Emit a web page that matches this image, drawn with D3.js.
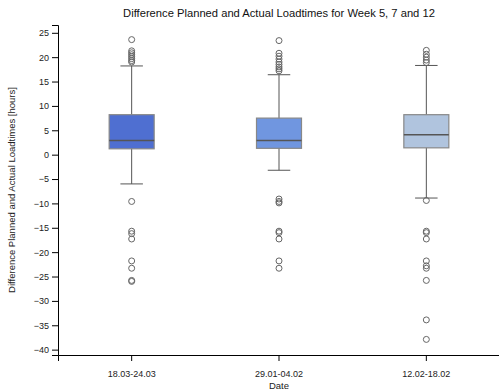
<!DOCTYPE html>
<html>
<head>
<meta charset="utf-8">
<script src="https://cdn.jsdelivr.net/npm/d3@7"></script>
<style>
  body { margin: 0; background: #fff; }
  text { font-family: "Liberation Sans", Arial, sans-serif; }
</style>
</head>
<body>
<svg id="chart" width="499" height="390"></svg>
<script>
const categories = ["18.03-24.03", "29.01-04.02", "12.02-18.02"];
const q1Values = [1.2, 1.3, 1.4];
const medianValues = [2.9, 2.9, 4.1];
const q3Values = [8.2, 7.5, 8.2];
const whiskerLow = [-6.0, -3.2, -8.9];
const whiskerHigh = [18.2, 16.4, 18.3];
const outliers = [
  [23.6, 21.3, 20.9, 20.5, 20.1, 19.7, 19.3, 19.0, -9.6, -15.7, -16.2, -17.3, -21.8, -23.3, -25.8, -26.0],
  [23.4, 20.8, 20.2, 19.6, 19.0, 18.5, 18.0, 17.6, 17.2, -9.1, -9.6, -9.9, -15.7, -16.0, -17.3, -21.8, -23.3],
  [21.4, 20.6, 20.0, 19.4, 18.9, -9.4, -15.7, -16.0, -17.3, -21.8, -22.8, -23.3, -25.8, -33.9, -37.9]
];
const boxColors = ["#4f6fd1", "#7096e0", "#b0c4de"];
const yTicks = [-40, -35, -30, -25, -20, -15, -10, -5, 0, 5, 10, 15, 20, 25];
const yDomain = [-41.1, 26.6];

const svg = d3.select("#chart");
const margin = {left: 58, top: 25, right: -1, bottom: 35};
const W = 499, H = 390;

const x = d3.scaleBand().domain(categories).range([margin.left, W - margin.right]);
const y = d3.scaleLinear().domain(yDomain).range([H - margin.bottom, margin.top]);

const boxW = 45;

const data = categories.map((c, i) => ({
  cat: c, q1: q1Values[i], med: medianValues[i], q3: q3Values[i],
  lo: whiskerLow[i], hi: whiskerHigh[i], out: outliers[i], color: boxColors[i]
}));

const g = svg.append("g");
const grp = g.selectAll("g.box").data(data).enter().append("g").attr("class", "box");
const cx = d => x(d.cat) + x.bandwidth() / 2;

grp.append("line")
  .attr("x1", cx).attr("x2", cx)
  .attr("y1", d => y(d.lo)).attr("y2", d => y(d.hi))
  .attr("stroke", "#555").attr("stroke-width", 1);
grp.append("line")
  .attr("x1", d => cx(d) - boxW / 4).attr("x2", d => cx(d) + boxW / 4)
  .attr("y1", d => y(d.hi)).attr("y2", d => y(d.hi))
  .attr("stroke", "#555").attr("stroke-width", 1);
grp.append("line")
  .attr("x1", d => cx(d) - boxW / 4).attr("x2", d => cx(d) + boxW / 4)
  .attr("y1", d => y(d.lo)).attr("y2", d => y(d.lo))
  .attr("stroke", "#555").attr("stroke-width", 1);
grp.append("rect")
  .attr("x", d => cx(d) - boxW / 2).attr("width", boxW)
  .attr("y", d => y(d.q3)).attr("height", d => y(d.q1) - y(d.q3))
  .attr("fill", d => d.color).attr("stroke", "#888").attr("stroke-width", 1.2);
grp.append("line")
  .attr("x1", d => cx(d) - boxW / 2).attr("x2", d => cx(d) + boxW / 2)
  .attr("y1", d => y(d.med)).attr("y2", d => y(d.med))
  .attr("stroke", "#555").attr("stroke-width", 1.5);
grp.selectAll("circle").data(d => d.out.map(v => ({v, d}))).enter().append("circle")
  .attr("cx", o => cx(o.d)).attr("cy", o => y(o.v)).attr("r", 3)
  .attr("fill", "none").attr("stroke", "#666").attr("stroke-width", 1);

const yAxis = svg.append("g").attr("transform", `translate(${margin.left},0)`)
  .call(d3.axisLeft(y).tickValues(yTicks));
const xAxis = svg.append("g").attr("transform", `translate(0,${H - margin.bottom})`)
  .call(d3.axisBottom(x).tickPadding(10));
svg.selectAll(".tick text").attr("font-family", "Liberation Sans, Arial, sans-serif").attr("font-size", 9).attr("fill", "#222");

svg.append("text").attr("x", (margin.left + W - margin.right) / 2).attr("y", 17)
  .attr("text-anchor", "middle").attr("font-size", 11.2).attr("fill", "#111")
  .text("Difference Planned and Actual Loadtimes for Week 5, 7 and 12");
svg.append("text").attr("x", (margin.left + W - margin.right) / 2).attr("y", 389)
  .attr("text-anchor", "middle").attr("font-size", 9.5).attr("fill", "#222")
  .text("Date");
svg.append("text")
  .attr("transform", `translate(15,${(margin.top + H - margin.bottom) / 2}) rotate(-90)`)
  .attr("text-anchor", "middle").attr("font-size", 9.5).attr("fill", "#222")
  .text("Difference Planned and Actual Loadtimes [hours]");
</script>
</body>
</html>
